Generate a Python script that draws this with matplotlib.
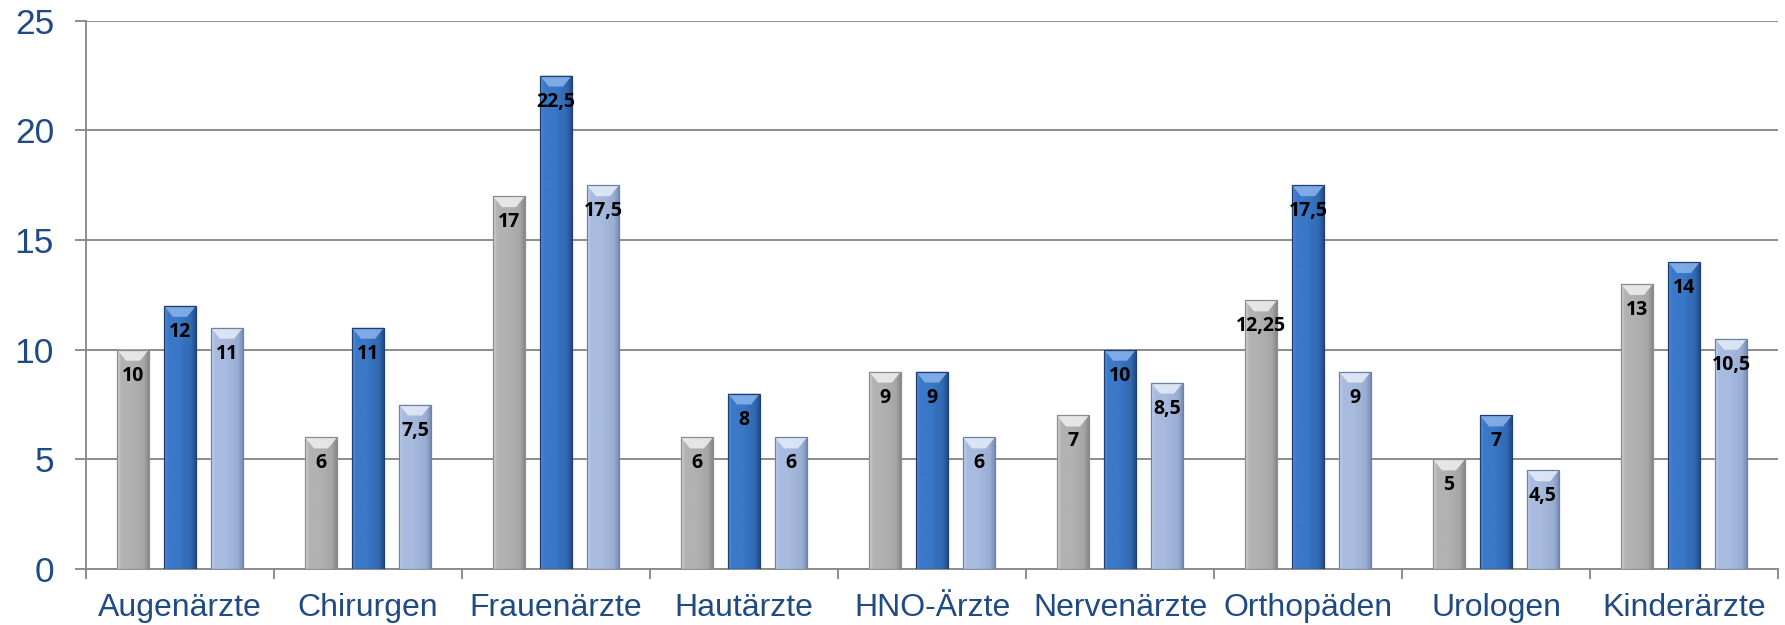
import numpy as np
import matplotlib
matplotlib.use("Agg")
import matplotlib.pyplot as plt
from matplotlib.colors import LinearSegmentedColormap
from matplotlib.patches import Polygon

# Data
categories = ['Augenärzte', 'Chirurgen', 'Frauenärzte', 'Hautärzte', 'HNO-Ärzte',
              'Nervenärzte', 'Orthopäden', 'Urologen', 'Kinderärzte']
series_grey = [10, 6, 17, 6, 9, 7, 12.25, 5, 13]
series_blue = [12, 11, 22.5, 8, 9, 10, 17.5, 7, 14]
series_light = [11, 7.5, 17.5, 6, 6, 8.5, 9, 4.5, 10.5]
y_ticks = [0, 5, 10, 15, 20, 25]

# Styles: gradient stops left -> right, top bevel colour, outline
styles = [
    dict(stops=['#d6d6d6', '#b2b2b2', '#a6a6a6', '#878787'], bevel='#ececec', edge='#8c8c8c'),
    dict(stops=['#5a8fd6', '#3a78c8', '#3169b2', '#244c86'], bevel='#86b0ea', edge='#1f3f70'),
    dict(stops=['#c4d2ec', '#a8bbdf', '#9aadd2', '#7a8eb6'], bevel='#e0e9f7', edge='#6d80a8'),
]

W, H = 1785, 625
fig = plt.figure(figsize=(W / 100, H / 100), dpi=100)
ax = fig.add_axes([86 / W, (625 - 569) / H, (1778 - 86) / W, (569 - 20.7) / H])

x = np.arange(len(categories))
offsets = [-0.25, 0.0, 0.25]
bar_w = 0.17
text_color = '#1f4a84'
grid_color = '#8c8c8c'

ax.set_xlim(-0.5, len(categories) - 0.5)
ax.set_ylim(0, 25)

# Horizontal grid lines
for yt in y_ticks:
    ax.axhline(yt, color=grid_color, lw=1.4, zorder=1)

px_per_unit = (569 - 20.7) / 25.0
bevel_depth = 11 / px_per_unit

for series, off, st in zip([series_grey, series_blue, series_light], offsets, styles):
    cmap = LinearSegmentedColormap.from_list('g', [(0.0, st['stops'][0]), (0.12, st['stops'][1]),
                                                   (0.45, st['stops'][1]), (0.85, st['stops'][2]),
                                                   (1.0, st['stops'][3])])
    bars = ax.bar(x + off, series, width=bar_w, color='none', edgecolor=st['edge'],
                  linewidth=0.9, zorder=4)
    grad = np.linspace(0, 1, 64).reshape(1, -1)
    for b, v in zip(bars, series):
        x0 = b.get_x()
        w = b.get_width()
        x1 = x0 + w
        h = b.get_height()
        im = ax.imshow(grad, cmap=cmap, extent=(x0, x1, 0, h), aspect='auto',
                       interpolation='bicubic', zorder=3)
        im.set_clip_path(b)
        # Top bevel: light trapezoid narrowing downwards
        d = min(bevel_depth, h * 0.5)
        ax.add_patch(Polygon([(x0, h), (x1, h), (x1 - 0.28 * w, h - d), (x0 + 0.28 * w, h - d)],
                             closed=True, facecolor=st['bevel'], edgecolor='none',
                             alpha=0.9, zorder=3.5))
        label = f'{v:g}'.replace('.', ',')
        ax.annotate(label, xy=(x0 + w / 2, h), xytext=(0, -26),
                    textcoords='offset pixels', ha='center', va='center',
                    fontsize=14, fontweight='bold', family='Open Sans', color='black',
                    zorder=6)

ax.set_xlim(-0.5, len(categories) - 0.5)
ax.set_ylim(0, 25)

# Axes styling
for s in ['top', 'right']:
    ax.spines[s].set_visible(False)
for s in ['left', 'bottom']:
    ax.spines[s].set_color(grid_color)
    ax.spines[s].set_linewidth(1.4)
    ax.spines[s].set_zorder(2)

ax.set_yticks(y_ticks)
ax.set_yticklabels([str(t) for t in y_ticks], fontsize=25.5, family='Liberation Sans',
                   color=text_color)
ax.tick_params(axis='y', length=8, width=1.4, color=grid_color, pad=15)

ax.set_xticks(x)
ax.set_xticklabels(categories, fontsize=23, family='Liberation Sans', color=text_color)
ax.set_xticks(np.arange(-0.5, len(categories)), minor=True)
ax.tick_params(axis='x', which='major', length=0, pad=17)
ax.tick_params(axis='x', which='minor', length=7, width=1.4, color=grid_color)

fig.savefig('out.png', dpi=100, facecolor='white')
